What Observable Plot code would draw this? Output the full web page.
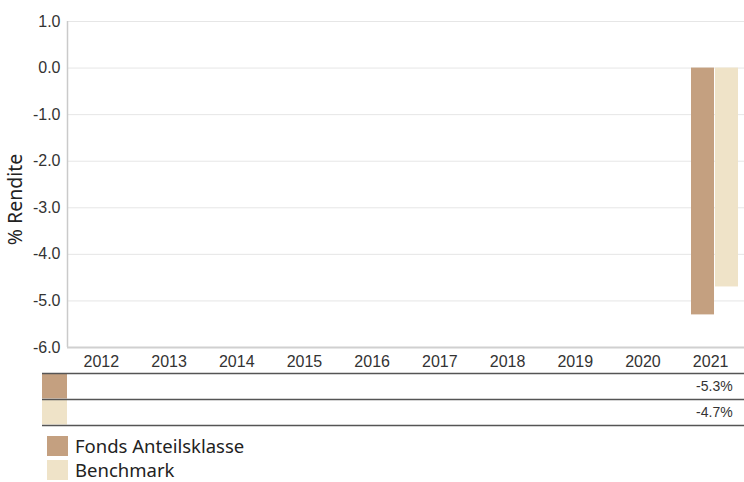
<!DOCTYPE html>
<html><head><meta charset="utf-8">
<script src="https://cdn.jsdelivr.net/npm/d3@7"></script>
<script src="https://cdn.jsdelivr.net/npm/@observablehq/plot@0.6"></script>
<style>
body{margin:0;background:#fff;font-family:"Liberation Sans",Arial,sans-serif;}
#wrap{width:744px;position:relative;}
svg{display:block;}
.legend{margin-left:47px;margin-top:4px;font-family:"Noto Sans",sans-serif;font-size:18.5px;color:#222;}
.legend .row{display:flex;align-items:center;height:24px;}
.legend .sw{width:21px;height:20px;margin-right:7px;}
.legend span{line-height:1;}
</style></head>
<body><div id="wrap"><div id="main"></div><div id="table"></div><div class="legend" id="legend"></div></div>
<script>
const years = ["2012","2013","2014","2015","2016","2017","2018","2019","2020","2021"];
const fundValues = [null,null,null,null,null,null,null,null,null,-5.3];
const benchValues = [null,null,null,null,null,null,null,null,null,-4.7];
const seriesNames = ["Fonds Anteilsklasse","Benchmark"];
const seriesColors = ["#c4a080","#efe3c8"];
const yTicks = [-6,-5,-4,-3,-2,-1,0,1];
const yLabel = "% Rendite";

const fund = years.map((y,i)=>({year:y, value:fundValues[i]})).filter(d=>d.value!=null);
const bench = years.map((y,i)=>({year:y, value:benchValues[i]})).filter(d=>d.value!=null);

const W = 744;
const main = Plot.plot({
  width: W, height: 370,
  marginLeft: 67, marginRight: 0, marginTop: 21, marginBottom: 23,
  style: {fontFamily: '"Liberation Sans", Arial, sans-serif', fontSize: "16px", color: "#333", background: "#fff", overflow: "visible"},
  x: {type: "band", domain: years, padding: 0, round: false},
  y: {domain: [-6, 1]},
  marks: [
    Plot.gridY(yTicks, {stroke: "#e6e6e6", strokeOpacity: 1}),
    Plot.barY(fund, {x: "year", y: "value", fill: seriesColors[0], insetLeft: 14.7, insetRight: 30}),
    Plot.barY(bench, {x: "year", y: "value", fill: seriesColors[1], insetLeft: 38.7, insetRight: 6}),
    Plot.axisY(yTicks, {tickSize: 0, tickPadding: 7, tickFormat: d => d.toFixed(1), label: null, fill: "#333"}),
    Plot.axisX({tickSize: 0, tickPadding: 8, label: null, fill: "#333"}),
    Plot.text([yLabel], {text: d => d, frameAnchor: "left", rotate: -90, dx: -52, dy: 15, textAnchor: "middle", fontSize: 19.5, fontFamily: '"Noto Sans", sans-serif', fill: "#222"}),
    Plot.ruleX([0], {x: () => years[0], dx: -33.85, stroke: "#cacaca", strokeWidth: 1.5}),
    Plot.ruleY([-6], {stroke: "#d0d0d0", strokeWidth: 2})
  ]
});
document.getElementById("main").appendChild(main);

const tableRows = [];
years.forEach((y,i)=>{
  tableRows.push({year:y, series:seriesNames[0], value:fundValues[i]});
  tableRows.push({year:y, series:seriesNames[1], value:benchValues[i]});
});
const table = Plot.plot({
  width: W, height: 60,
  marginLeft: 67, marginRight: 0, marginTop: 3, marginBottom: 5,
  style: {fontFamily: '"Liberation Sans", Arial, sans-serif', fontSize: "14px", color: "#333", background: "#fff", overflow: "visible"},
  x: {type: "band", domain: years, padding: 0, round: false, axis: null},
  y: {type: "band", domain: seriesNames, padding: 0, round: false, axis: null},
  color: {domain: seriesNames, range: seriesColors},
  marks: [
    Plot.cell(seriesNames, {y: d => d, fill: d => d, insetLeft: -25, insetRight: W - 67, insetTop: 0.5, insetBottom: 0.5}),
    Plot.text(tableRows.filter(d => d.value != null), {x: "year", y: "series", text: d => d.value.toFixed(1) + "%", textAnchor: "end", dx: 22, fill: "#333"}),
    Plot.ruleY(seriesNames, {y: d => d, dy: -13, insetLeft: -25, stroke: "#555", strokeWidth: 1.5}),
    Plot.ruleY([seriesNames[seriesNames.length-1]], {y: d => d, dy: 13, insetLeft: -25, stroke: "#555", strokeWidth: 1.5})
  ]
});
document.getElementById("table").appendChild(table);

const leg = document.getElementById("legend");
seriesNames.forEach((s,i)=>{
  const r = document.createElement("div"); r.className = "row";
  const sw = document.createElement("div"); sw.className = "sw"; sw.style.background = seriesColors[i];
  const t = document.createElement("span"); t.textContent = s;
  r.appendChild(sw); r.appendChild(t); leg.appendChild(r);
});
</script></body></html>
